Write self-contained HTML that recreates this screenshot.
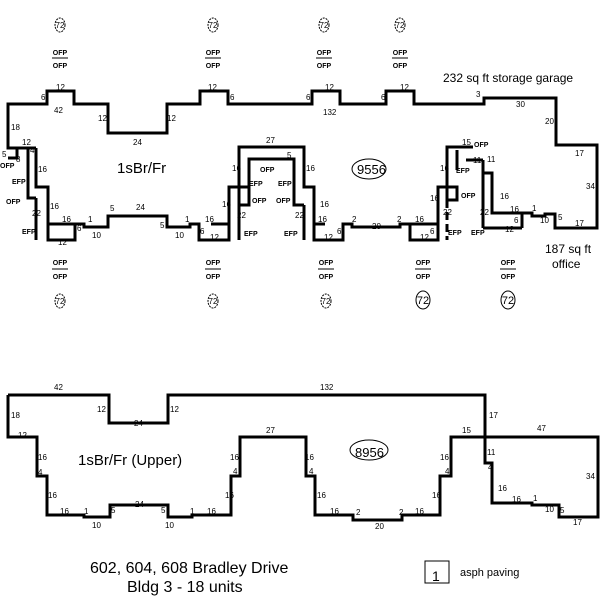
<!DOCTYPE html>
<html><head><meta charset="utf-8"><style>
body{margin:0;background:#fff}
svg{display:block}
.l{fill:none;stroke:#000;stroke-width:3}
.t{font-family:"Liberation Sans",sans-serif;font-size:8px;fill:#000}
.s{font-family:"Liberation Sans",sans-serif;font-size:7px;fill:#000;font-weight:bold}
</style></head><body>
<svg width="600" height="600" viewBox="0 0 600 600" xmlns="http://www.w3.org/2000/svg">
<!-- upper building outline -->
<polyline class="l" points="36,148 8,148 8,104 47,104 47,91 74,91 74,104 108,104 108,133 167,133 167,104 200,104 200,91 228,91 228,104 312,104 312,91 340,91 340,104 386,104 386,91 414,91 414,104 484,104 484,98 556,98 556,145 597,145 597,228 555,228 555,214 545,214 545,216 532,216 532,213 492,213 492,173 483,173"/>
<!-- left unit -->
<polyline class="l" points="36,148 36,187 48,187 48,240 75,240 75,224 84,224 84,227 108,227 108,216 167,216 167,227 190,227 190,224 199,224 199,240 229,240 229,187 239,187 239,147 304,147 304,187 314,187 314,240 343,240 343,224 352,224 352,227 400,227 400,224 410,224 410,240 438,240 438,187 447,187 447,147 473,147"/>
<polyline class="l" points="28,148 28,198 36,198"/>
<polyline class="l" points="8,158 17,158 17,148"/>
<line class="l" x1="36" y1="198" x2="36" y2="240"/>
<line class="l" x1="48" y1="224" x2="84" y2="224"/>
<line class="l" x1="211" y1="224" x2="229" y2="224"/>
<line class="l" x1="314" y1="224" x2="325" y2="224"/>
<line class="l" x1="410" y1="224" x2="438" y2="224"/>
<!-- middle unit inner -->
<polyline class="l" points="249,198 249,159 294,159 294,205 304,205"/>
<rect class="l" x="239" y="187" width="10" height="18"/>
<line class="l" x1="239" y1="205" x2="239" y2="240"/>
<line class="l" x1="304" y1="205" x2="304" y2="240"/>
<!-- right inner -->
<polyline class="l" points="457,150 457,170"/>
<line class="l" x1="466" y1="160" x2="483" y2="160"/>
<line class="l" x1="483" y1="160" x2="483" y2="228"/>
<rect class="l" x="447" y="187" width="10" height="13"/>
<line class="l" x1="447" y1="200" x2="447" y2="240" stroke-dasharray="8,4"/>
<line class="l" x1="483" y1="228" x2="522" y2="228"/>
<line class="l" x1="522" y1="228" x2="522" y2="213"/>
<!-- lower building -->
<polyline class="l" points="8,395 109,395 109,423 168,423 168,395 485,395 485,463 492,463 492,503 532,503 532,505 559,505 559,517 598,517 598,437 485,437"/>
<polyline class="l" points="8,395 8,437 37,437 37,476 47,476 47,515 84,515 84,517 110,517 110,505 168,505 168,517 192,517 192,515 231,515 231,476 240,476 240,437 306,437 306,476 315,476 315,515 353,515 353,520 402,520 402,515 440,515 440,476 451,476 451,437 485,437"/>
<!-- labels upper -->
<g class="t">
<text x="56" y="90">12</text><text x="41" y="100">6</text><text x="54" y="113">42</text>
<text x="11" y="130">18</text><text x="98" y="121">12</text><text x="167" y="121">12</text><text x="133" y="145">24</text>
<text x="22" y="145">12</text><text x="30" y="153">4</text><text x="2" y="157">5</text><text x="16" y="162">8</text>
<text x="38" y="172">16</text><text x="50" y="209">16</text><text x="32" y="216">22</text>
<text x="62" y="222">16</text><text x="88" y="222">1</text><text x="92" y="238">10</text><text x="77" y="231">6</text><text x="58" y="245">12</text>
<text x="110" y="211">5</text><text x="136" y="210">24</text><text x="160" y="228">5</text><text x="185" y="222">1</text><text x="205" y="222">16</text>
<text x="175" y="238">10</text><text x="200" y="234">6</text><text x="210" y="240">12</text>
<text x="208" y="90">12</text><text x="230" y="100">6</text>
<text x="232" y="171">16</text><text x="222" y="207">16</text><text x="237" y="218">22</text><text x="266" y="143">27</text>
<text x="287" y="158">5</text><text x="306" y="171">16</text><text x="320" y="207">16</text><text x="295" y="218">22</text>
<text x="318" y="222">16</text><text x="337" y="234">6</text><text x="324" y="240">12</text>
<text x="352" y="222">2</text><text x="372" y="229">20</text><text x="397" y="222">2</text><text x="415" y="222">16</text>
<text x="430" y="234">6</text><text x="420" y="240">12</text><text x="430" y="201">16</text><text x="440" y="171">16</text>
<text x="325" y="90">12</text><text x="306" y="100">6</text><text x="323" y="115">132</text>
<text x="400" y="90">12</text><text x="381" y="100">6</text>
<text x="476" y="97">3</text><text x="516" y="107">30</text><text x="545" y="124">20</text>
<text x="575" y="156">17</text><text x="586" y="189">34</text><text x="575" y="226">17</text>
<text x="462" y="145">15</text><text x="487" y="162">11</text><text x="473" y="163">11</text>
<text x="500" y="199">16</text><text x="510" y="212">16</text><text x="532" y="211">1</text><text x="540" y="223">10</text><text x="558" y="220">5</text>
<text x="514" y="223">6</text><text x="505" y="232">12</text><text x="480" y="215">22</text><text x="443" y="215">22</text>
</g>
<g class="s">
<text x="0" y="168">OFP</text><text x="12" y="184">EFP</text><text x="6" y="204">OFP</text><text x="22" y="234">EFP</text>
<text x="260" y="172">OFP</text><text x="249" y="186">EFP</text><text x="278" y="186">EFP</text><text x="252" y="203">OFP</text><text x="276" y="203">OFP</text>
<text x="244" y="236">EFP</text><text x="284" y="236">EFP</text>
<text x="474" y="147">OFP</text><text x="456" y="173">EFP</text><text x="461" y="198">OFP</text><text x="448" y="235">EFP</text><text x="471" y="235">EFP</text>
</g>
<!-- oval annotations -->
<g class="t" text-anchor="middle">
<text x="60" y="28">72</text><text x="213" y="28">72</text><text x="324" y="28">72</text><text x="400" y="28">72</text>
<text x="60" y="304">72</text><text x="213" y="304">72</text><text x="326" y="304">72</text>
</g>
<g fill="none" stroke="#000" stroke-width="1" stroke-dasharray="2,1">
<ellipse cx="60" cy="25" rx="5" ry="7"/><ellipse cx="213" cy="25" rx="5" ry="7"/><ellipse cx="324" cy="25" rx="5" ry="7"/><ellipse cx="400" cy="25" rx="5" ry="7"/>
<ellipse cx="60" cy="301" rx="5" ry="7"/><ellipse cx="213" cy="301" rx="5" ry="7"/><ellipse cx="326" cy="301" rx="5" ry="7"/>
</g>
<g font-family="Liberation Sans,sans-serif" font-size="11" text-anchor="middle">
<text x="423" y="304">72</text><text x="508" y="304">72</text>
</g>
<ellipse cx="423" cy="300" rx="7" ry="9" fill="none" stroke="#000"/>
<ellipse cx="508" cy="300" rx="7" ry="9" fill="none" stroke="#000"/>
<g class="s" text-anchor="middle">
<text x="60" y="55">OFP</text><text x="60" y="68">OFP</text>
<text x="213" y="55">OFP</text><text x="213" y="68">OFP</text>
<text x="324" y="55">OFP</text><text x="324" y="68">OFP</text>
<text x="400" y="55">OFP</text><text x="400" y="68">OFP</text>
<text x="60" y="265">OFP</text><text x="60" y="279">OFP</text>
<text x="213" y="265">OFP</text><text x="213" y="279">OFP</text>
<text x="326" y="265">OFP</text><text x="326" y="279">OFP</text>
<text x="423" y="265">OFP</text><text x="423" y="279">OFP</text>
<text x="508" y="265">OFP</text><text x="508" y="279">OFP</text>
</g>
<g stroke="#000" stroke-width="1">
<line x1="52" y1="58" x2="68" y2="58"/><line x1="205" y1="58" x2="221" y2="58"/><line x1="316" y1="58" x2="332" y2="58"/><line x1="392" y1="58" x2="408" y2="58"/>
<line x1="52" y1="269" x2="68" y2="269"/><line x1="205" y1="269" x2="221" y2="269"/><line x1="318" y1="269" x2="334" y2="269"/><line x1="415" y1="269" x2="431" y2="269"/><line x1="500" y1="269" x2="516" y2="269"/>
</g>
<!-- lower labels -->
<g class="t">
<text x="54" y="390">42</text><text x="320" y="390">132</text><text x="11" y="418">18</text><text x="97" y="412">12</text><text x="170" y="412">12</text><text x="134" y="426">24</text>
<text x="18" y="438">12</text><text x="38" y="460">16</text><text x="38" y="475">4</text><text x="48" y="498">16</text>
<text x="60" y="514">16</text><text x="84" y="514">1</text><text x="92" y="528">10</text><text x="111" y="513">5</text><text x="135" y="507">24</text><text x="161" y="513">5</text>
<text x="165" y="528">10</text><text x="190" y="514">1</text><text x="207" y="514">16</text><text x="225" y="498">16</text><text x="230" y="460">16</text><text x="233" y="474">4</text>
<text x="266" y="433">27</text><text x="305" y="460">16</text><text x="309" y="474">4</text><text x="317" y="498">16</text>
<text x="330" y="514">16</text><text x="356" y="515">2</text><text x="375" y="529">20</text><text x="399" y="515">2</text><text x="415" y="514">16</text>
<text x="432" y="498">16</text><text x="440" y="460">16</text><text x="445" y="474">4</text><text x="462" y="433">15</text>
<text x="489" y="418">17</text><text x="537" y="431">47</text><text x="586" y="479">34</text>
<text x="487" y="455">11</text><text x="488" y="470">4</text><text x="498" y="491">16</text><text x="512" y="502">16</text><text x="533" y="501">1</text>
<text x="545" y="512">10</text><text x="560" y="513">5</text><text x="573" y="525">17</text>
</g>
<!-- big texts -->
<g font-family="Liberation Sans,sans-serif" fill="#000">
<text x="117" y="173" font-size="15">1sBr/Fr</text>
<text x="78" y="465" font-size="15">1sBr/Fr (Upper)</text>
<text x="357" y="174" font-size="13">9556</text>
<text x="355" y="457" font-size="13">8956</text>
<text x="443" y="82" font-size="12">232 sq ft storage garage</text>
<text x="545" y="253" font-size="12">187 sq ft</text>
<text x="552" y="268" font-size="12">office</text>
<text x="90" y="573" font-size="16">602, 604, 608 Bradley Drive</text>
<text x="127" y="592" font-size="16">Bldg 3 - 18 units</text>
<text x="432" y="581" font-size="14">1</text>
<text x="460" y="576" font-size="11">asph paving</text>
</g>
<ellipse cx="369" cy="169" rx="17" ry="10" fill="none" stroke="#000"/>
<ellipse cx="369" cy="450" rx="19" ry="10" fill="none" stroke="#000"/>
<rect x="425" y="561" width="24" height="22" fill="none" stroke="#000"/>
</svg>
</body></html>
